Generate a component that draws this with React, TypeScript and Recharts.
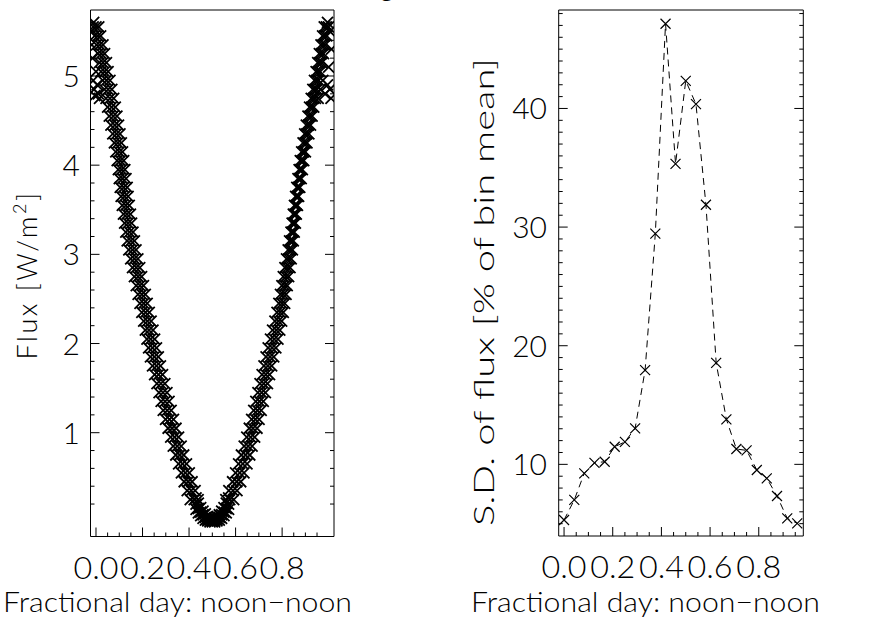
import React from 'react';
import { ScatterChart, Scatter, XAxis, YAxis } from 'recharts';

// ---------- Left panel: flux vs fractional day (dense scatter band) ----------
// morning->midnight branch, sampled by flux level (W/m^2)
const leftBranchFlux = [5.55, 5.45, 5.35, 5.25, 5.15, 5.05, 4.95, 4.85, 4.75, 4.65, 4.55, 4.45, 4.35, 4.25, 4.15, 4.05, 3.95, 3.85, 3.75, 3.65, 3.55, 3.45, 3.35, 3.25, 3.15, 3.05, 2.95, 2.85, 2.75, 2.65, 2.55, 2.45, 2.35, 2.25, 2.15, 2.05, 1.95, 1.85, 1.75, 1.65, 1.55, 1.45, 1.35, 1.25, 1.15, 1.05, 0.95, 0.85, 0.75, 0.65, 0.55, 0.45, 0.35, 0.25];
const leftBranchDayA = [-0.012, -0.006, 0.002, 0.009, 0.015, 0.022, 0.029, 0.036, 0.043, 0.05, 0.057, 0.064, 0.072, 0.079, 0.085, 0.091, 0.096, 0.1, 0.104, 0.108, 0.113, 0.118, 0.123, 0.128, 0.134, 0.141, 0.149, 0.157, 0.165, 0.173, 0.181, 0.189, 0.197, 0.205, 0.212, 0.219, 0.226, 0.234, 0.243, 0.252, 0.262, 0.271, 0.28, 0.289, 0.299, 0.31, 0.321, 0.332, 0.343, 0.355, 0.367, 0.379, 0.392, 0.405];
const leftBranchDayMid = [0.0, 0.008, 0.016, 0.023, 0.03, 0.037, 0.045, 0.052, 0.06, 0.067, 0.074, 0.081, 0.088, 0.094, 0.1, 0.105, 0.11, 0.114, 0.119, 0.123, 0.128, 0.133, 0.138, 0.144, 0.15, 0.157, 0.165, 0.173, 0.181, 0.189, 0.197, 0.205, 0.213, 0.221, 0.228, 0.235, 0.243, 0.251, 0.26, 0.269, 0.279, 0.288, 0.297, 0.306, 0.316, 0.327, 0.338, 0.349, 0.36, 0.372, 0.384, 0.396, 0.409, 0.422];
const leftBranchDayC = [0.012, 0.02, 0.03, 0.037, 0.045, 0.052, 0.06, 0.068, 0.076, 0.083, 0.09, 0.097, 0.103, 0.109, 0.114, 0.119, 0.124, 0.129, 0.134, 0.138, 0.143, 0.148, 0.153, 0.159, 0.165, 0.172, 0.18, 0.188, 0.196, 0.204, 0.212, 0.22, 0.229, 0.237, 0.245, 0.252, 0.26, 0.268, 0.277, 0.286, 0.296, 0.305, 0.314, 0.323, 0.333, 0.344, 0.355, 0.366, 0.377, 0.389, 0.401, 0.413, 0.426, 0.439];

// midnight->noon branch, sampled by flux level
const rightBranchFlux = [0.25, 0.35, 0.45, 0.55, 0.65, 0.75, 0.85, 0.95, 1.05, 1.15, 1.25, 1.35, 1.45, 1.55, 1.65, 1.75, 1.85, 1.95, 2.05, 2.15, 2.25, 2.35, 2.45, 2.55, 2.65, 2.75, 2.85, 2.95, 3.05, 3.15, 3.25, 3.35, 3.45, 3.55, 3.65, 3.75, 3.85, 3.95, 4.05, 4.15, 4.25, 4.35, 4.45, 4.55, 4.65, 4.75, 4.85, 4.95, 5.05, 5.15, 5.25, 5.35, 5.45, 5.55];
const rightBranchDayA = [0.558, 0.571, 0.587, 0.6, 0.613, 0.625, 0.637, 0.648, 0.659, 0.669, 0.678, 0.687, 0.696, 0.705, 0.714, 0.722, 0.731, 0.74, 0.75, 0.759, 0.769, 0.778, 0.786, 0.793, 0.799, 0.805, 0.812, 0.819, 0.826, 0.832, 0.838, 0.843, 0.848, 0.853, 0.858, 0.863, 0.868, 0.873, 0.878, 0.884, 0.89, 0.897, 0.904, 0.911, 0.918, 0.925, 0.932, 0.939, 0.946, 0.953, 0.96, 0.967, 0.974, 0.981];
const rightBranchDayMid = [0.575, 0.589, 0.605, 0.618, 0.631, 0.643, 0.654, 0.665, 0.675, 0.685, 0.694, 0.703, 0.712, 0.721, 0.73, 0.739, 0.748, 0.757, 0.766, 0.775, 0.784, 0.792, 0.799, 0.805, 0.811, 0.817, 0.823, 0.829, 0.835, 0.84, 0.845, 0.85, 0.855, 0.86, 0.865, 0.87, 0.875, 0.88, 0.886, 0.892, 0.899, 0.906, 0.913, 0.92, 0.927, 0.934, 0.941, 0.948, 0.955, 0.962, 0.969, 0.976, 0.983, 0.99];
const rightBranchDayC = [0.592, 0.606, 0.622, 0.636, 0.649, 0.661, 0.671, 0.682, 0.692, 0.701, 0.71, 0.719, 0.728, 0.737, 0.746, 0.755, 0.764, 0.773, 0.782, 0.79, 0.798, 0.805, 0.811, 0.817, 0.822, 0.828, 0.834, 0.839, 0.844, 0.848, 0.852, 0.857, 0.861, 0.866, 0.871, 0.876, 0.882, 0.887, 0.893, 0.9, 0.907, 0.915, 0.922, 0.929, 0.936, 0.943, 0.95, 0.957, 0.964, 0.971, 0.978, 0.985, 0.992, 0.999];

// around midnight, sampled by fractional day
const bottomDay = [0.43, 0.44, 0.45, 0.46, 0.47, 0.48, 0.49, 0.5, 0.51, 0.52, 0.53, 0.54, 0.55, 0.56, 0.57];
const bottomFluxLow = [0.14, 0.1, 0.07, 0.04, 0.02, 0.01, 0.0, 0.0, 0.0, 0.01, 0.02, 0.04, 0.07, 0.1, 0.14];
const bottomFluxMid = [0.2, 0.15, 0.11, 0.08, 0.05, 0.03, 0.02, 0.015, 0.02, 0.03, 0.05, 0.08, 0.11, 0.15, 0.2];
const bottomFluxHigh = [0.27, 0.21, 0.16, 0.12, 0.09, 0.06, 0.04, 0.035, 0.04, 0.06, 0.08, 0.12, 0.16, 0.21, 0.27];

// scattered low values near noon
const edgeDay = [-0.02, -0.018, -0.015, -0.012, -0.01, -0.008, -0.005, 0.0, 0.005, 0.01, 0.015, 0.955, 0.965, 0.975, 0.985, 0.995, 1.005, 1.01, 1.0, 1.012, 1.005, 0.995];
const edgeFlux = [5.5, 5.35, 5.2, 4.95, 5.6, 4.85, 4.78, 5.05, 4.9, 4.8, 4.75, 4.75, 4.85, 4.95, 4.8, 4.9, 4.85, 4.75, 5.1, 5.3, 5.5, 5.6];

// ---------- Right panel: S.D. of flux per hourly bin ----------
const sdDay = [0.0, 0.042, 0.083, 0.125, 0.167, 0.208, 0.25, 0.292, 0.333, 0.375, 0.417, 0.458, 0.5, 0.542, 0.583, 0.625, 0.667, 0.708, 0.75, 0.792, 0.833, 0.875, 0.917, 0.958];
const sdPercent = [5.31, 7.0, 9.24, 10.13, 10.22, 11.48, 11.9, 13.03, 17.94, 29.45, 47.14, 35.33, 42.33, 40.37, 31.88, 18.56, 13.79, 11.29, 11.18, 9.52, 8.82, 7.33, 5.45, 5.03];

// ---------- Ticks ----------
const xMajorTicks = [0, 0.2, 0.4, 0.6, 0.8];
const xMinorTicks = [0.05, 0.1, 0.15, 0.25, 0.3, 0.35, 0.45, 0.5, 0.55, 0.65, 0.7, 0.75, 0.85, 0.9, 0.95];
const xTickLabels = ['0.0', '0.2', '0.4', '0.6', '0.8'];
const fluxMajorTicks = [1, 2, 3, 4, 5];
const fluxMinorTicks = [0.2, 0.4, 0.6, 0.8, 1.2, 1.4, 1.6, 1.8, 2.2, 2.4, 2.6, 2.8, 3.2, 3.4, 3.6, 3.8, 4.2, 4.4, 4.6, 4.8, 5.2, 5.4, 5.6];
const fluxTickLabels = ['1', '2', '3', '4', '5'];
const sdMajorTicks = [10, 20, 30, 40];
const sdMinorTicks = [5, 6, 7, 8, 9, 11, 12, 13, 14, 15, 16, 17, 18, 19, 21, 22, 23, 24, 25, 26, 27, 28, 29, 31, 32, 33, 34, 35, 36, 37, 38, 39, 41, 42, 43, 44, 45, 46, 47, 48];
const sdTickLabels = ['10', '20', '30', '40'];

const FONT = 'Lato, "DejaVu Sans", sans-serif';
const INK = '#000';
const MAJOR_LEN = 9;
const MINOR_LEN = 4;

const fluxPoints = [
  ...leftBranchFlux.flatMap((f, i) => [
    { x: leftBranchDayA[i], y: f },
    { x: leftBranchDayMid[i], y: f },
    { x: leftBranchDayC[i], y: f },
  ]),
  ...bottomDay.flatMap((d, i) => [
    { x: d, y: bottomFluxLow[i] },
    { x: d, y: bottomFluxMid[i] },
    { x: d, y: bottomFluxHigh[i] },
  ]),
  ...rightBranchFlux.flatMap((f, i) => [
    { x: rightBranchDayA[i], y: f },
    { x: rightBranchDayMid[i], y: f },
    { x: rightBranchDayC[i], y: f },
  ]),
  ...edgeDay.map((d, i) => ({ x: d, y: edgeFlux[i] })),
];

const sdPoints = sdDay.map((d, i) => ({ x: d, y: sdPercent[i] }));

const makeXMark = (s: number, w: number) => (props: any) => {
  const { cx, cy } = props;
  if (cx == null || cy == null) return <g />;
  return (
    <path
      d={`M${cx - s},${cy - s}L${cx + s},${cy + s}M${cx - s},${cy + s}L${cx + s},${cy - s}`}
      stroke={INK}
      strokeWidth={w}
      fill="none"
    />
  );
};

const findIdx = (ticks: number[], v: number) => ticks.findIndex((t) => Math.abs(t - v) < 1e-9);

type Side = 'bottom' | 'top' | 'left' | 'right';

// Draws IDL-style inward tick marks (major/minor) and, optionally, labels.
const makeFrameTick = (side: Side, major: number[], labels: string[] | null, gap: number) => (props: any) => {
  const { x, y, payload } = props;
  const idx = findIdx(major, payload.value);
  const len = idx >= 0 ? MAJOR_LEN : MINOR_LEN;
  let line;
  if (side === 'bottom') line = <line x1={x} y1={y} x2={x} y2={y - len} stroke={INK} strokeWidth={1} />;
  else if (side === 'top') line = <line x1={x} y1={y} x2={x} y2={y + len} stroke={INK} strokeWidth={1} />;
  else if (side === 'left') line = <line x1={x} y1={y} x2={x + len} y2={y} stroke={INK} strokeWidth={1} />;
  else line = <line x1={x} y1={y} x2={x - len} y2={y} stroke={INK} strokeWidth={1} />;
  let label = null;
  if (labels && idx >= 0) {
    if (side === 'bottom') {
      label = (
        <text x={x} y={y + gap} textAnchor="middle" fontFamily={FONT} fontWeight={300} fontSize={31} fill={INK} textLength={45} lengthAdjust="spacingAndGlyphs">
          {labels[idx]}
        </text>
      );
    } else if (side === 'left') {
      label = (
        <text x={x - gap} y={y + 11} textAnchor="end" fontFamily={FONT} fontWeight={300} fontSize={30} fill={INK}>
          {labels[idx]}
        </text>
      );
    }
  }
  return (
    <g>
      {line}
      {label}
    </g>
  );
};

function frameAxes(
  xDomain: [number, number],
  yDomain: [number, number],
  yMajor: number[],
  yMinor: number[],
  yLabels: string[],
  yGap: number
) {
  const common: any = {
    type: 'number',
    allowDataOverflow: true,
    interval: 0,
    mirror: true,
    stroke: INK,
    tickLine: false,
    tickSize: 0,
    tickMargin: 0,
  };
  const xAll = [...xMajorTicks, ...xMinorTicks];
  const yAll = [...yMajor, ...yMinor];
  return [
    <XAxis key="xb" xAxisId="main" dataKey="x" orientation="bottom" domain={xDomain} ticks={xAll} tick={makeFrameTick('bottom', xMajorTicks, xTickLabels, 42)} {...common} />,
    <XAxis key="xt" xAxisId="top" orientation="top" domain={xDomain} ticks={xAll} tick={makeFrameTick('top', xMajorTicks, null, 0)} {...common} />,
    <YAxis key="yl" yAxisId="main" dataKey="y" orientation="left" domain={yDomain} ticks={yAll} tick={makeFrameTick('left', yMajor, yLabels, yGap)} {...common} />,
    <YAxis key="yr" yAxisId="right" orientation="right" domain={yDomain} ticks={yAll} tick={makeFrameTick('right', yMajor, null, 0)} {...common} />,
  ];
}

export default function App() {
  return (
    <div style={{ position: 'absolute', left: 0, top: 0, width: 877, height: 624, background: '#fff', overflow: 'hidden' }}>
      <div style={{ position: 'absolute', left: 0, top: 0 }}>
        <ScatterChart width={440} height={624} margin={{ top: 10, bottom: 87.5, left: 90.5, right: 106 }}>
          {frameAxes([-0.0236, 1.023], [-0.164, 5.74], fluxMajorTicks, fluxMinorTicks, fluxTickLabels, 10.5)}
          <Scatter data={fluxPoints} xAxisId="main" yAxisId="main" shape={makeXMark(5.5, 1.8)} isAnimationActive={false} />
        </ScatterChart>
      </div>
      <div style={{ position: 'absolute', left: 440, top: 0 }}>
        <ScatterChart width={437} height={624} margin={{ top: 10, bottom: 88, left: 118.7, right: 73.7 }}>
          {frameAxes([-0.022, 0.983], [3.96, 48.3], sdMajorTicks, sdMinorTicks, sdTickLabels, 11.7)}
          <Scatter
            data={sdPoints}
            xAxisId="main"
            yAxisId="main"
            shape={makeXMark(5, 1.2)}
            line={{ stroke: INK, strokeWidth: 1, strokeDasharray: '7 5' }}
            lineType="joint"
            isAnimationActive={false}
          />
        </ScatterChart>
      </div>
      <svg width={877} height={624} style={{ position: 'absolute', left: 0, top: 0, pointerEvents: 'none' }}>
        <text x={387} y={-4} textAnchor="middle" fontFamily={FONT} fontWeight={300} fontSize={30} fill={INK}>g</text>
        <text x={177.5} y={611.7} textAnchor="middle" fontFamily={FONT} fontWeight={300} fontSize={27} fill={INK} textLength={349} lengthAdjust="spacingAndGlyphs">
          Fractional day: noon−noon
        </text>
        <text x={645.5} y={611.7} textAnchor="middle" fontFamily={FONT} fontWeight={300} fontSize={27} fill={INK} textLength={349} lengthAdjust="spacingAndGlyphs">
          Fractional day: noon−noon
        </text>
        <text x={37} y={275} transform="rotate(-90, 37, 275)" textAnchor="middle" fontFamily={FONT} fontWeight={300} fontSize={27} fill={INK} letterSpacing={2.5}>
          Flux [W/m<tspan dy={-11} fontSize={18}>2</tspan><tspan dy={11}>]</tspan>
        </text>
        <text x={494} y={292} transform="rotate(-90, 494, 292)" textAnchor="middle" fontFamily={FONT} fontWeight={300} fontSize={27} fill={INK} textLength={468} lengthAdjust="spacingAndGlyphs">
          S.D. of flux [% of bin mean]
        </text>
      </svg>
    </div>
  );
}
